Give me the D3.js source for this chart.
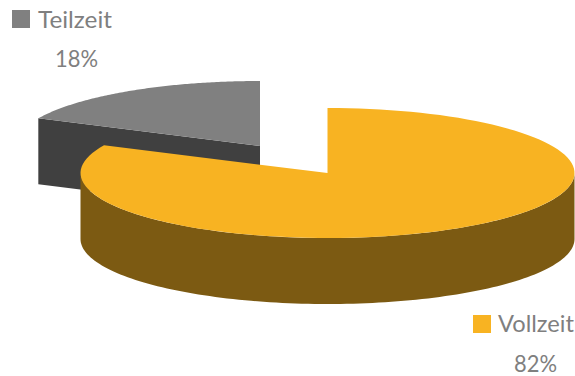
<!DOCTYPE html>
<html>
<head>
<meta charset="utf-8">
<script src="https://cdn.jsdelivr.net/npm/d3@7/dist/d3.min.js"></script>
<style>
html, body { margin: 0; padding: 0; background: #fff; }
svg { display: block; }
text { font-family: Lato, sans-serif; fill: #7f7f7f; font-size: 24px; font-weight: 400; }
</style>
</head>
<body>
<svg id="chart" width="575" height="376"></svg>
<script>
const categories = ["Vollzeit", "Teilzeit"];
const shares = [82, 18];
const topColors = ["#f8b322", "#808080"];
const sideColors = ["#7c5a12", "#404040"];

const svg = d3.select("#chart");
const depth = 66;
const radiiX = [247, 245];
const radiusY = 65;

// The exploded slices sit on different centres of the same tilted disc.
const centres = [[327.5, 173], [260, 146]];

// Teilzeit closes the circle, so the slices run clockwise from twelve o'clock.
const angles = d3.pie().sort(null)(shares);

const line = d3.line();
const shift = pts => pts.map(p => [p[0], p[1] + depth]);

function slab(i) {
  const c = centres[i];
  const a0 = angles[i].startAngle, a1 = angles[i].endAngle;
  const px = d3.scaleLinear().domain([-1, 1]).range([-radiiX[i], radiiX[i]]);
  const py = d3.scaleLinear().domain([-1, 1]).range([-radiusY, radiusY]);
  const onRim = a => [c[0] + px(Math.sin(a)), c[1] + py(-Math.cos(a))];
  const rimPoints = (from, to) =>
    d3.range(0, 121).map(k => onRim(from + (to - from) * k / 120));
  const g = svg.append("g");

  // Front-facing wall: outer rim for the large slice, cut face for the small one.
  let wall;
  if (i === 0) {
    const rim = rimPoints(Math.PI / 2, Math.PI * 3 / 2);
    wall = rim.concat(shift(rim).reverse());
  } else {
    const edge = [onRim(a0), c];
    wall = edge.concat(shift(edge).reverse());
  }
  g.append("path").attr("d", line(wall) + "Z").attr("fill", sideColors[i]);

  const top = [c].concat(rimPoints(a0, a1));
  g.append("path").attr("d", line(top) + "Z").attr("fill", topColors[i]);
}

// Back slice first so the large slice overlaps it.
slab(1);
slab(0);

// Legend entries with their percentages underneath.
const legend = [
  { i: 1, sx: 12, sy: 10, tx: 38, ty: 28, nameW: 74, vx: 55, vy: 67 },
  { i: 0, sx: 473, sy: 315, tx: 498, ty: 332, nameW: 76, vx: 514, vy: 372 }
];
legend.forEach(d => {
  svg.append("rect").attr("x", d.sx).attr("y", d.sy)
    .attr("width", 18).attr("height", 18).attr("fill", topColors[d.i]);
  svg.append("text").attr("x", d.tx).attr("y", d.ty)
    .attr("textLength", d.nameW).attr("lengthAdjust", "spacingAndGlyphs")
    .text(categories[d.i]);
  svg.append("text").attr("x", d.vx).attr("y", d.vy)
    .attr("textLength", 43).attr("lengthAdjust", "spacingAndGlyphs")
    .text(shares[d.i] + "%");
});
</script>
</body>
</html>
